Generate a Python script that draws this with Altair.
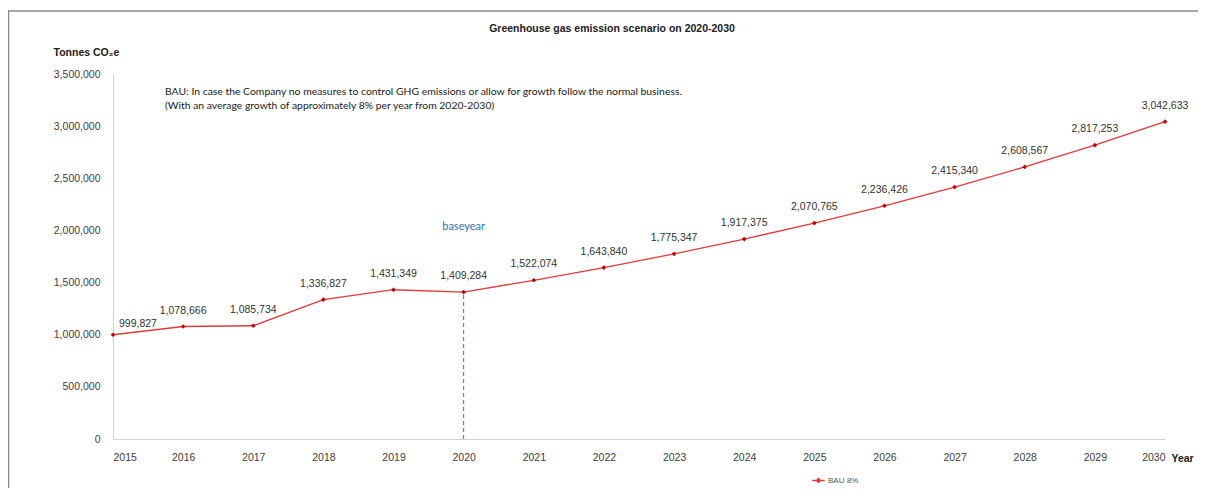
import altair as alt
import pandas as pd

years = list(range(2015, 2031))
emissions = [999827, 1078666, 1085734, 1336827, 1431349, 1409284, 1522074, 1643840,
             1775347, 1917375, 2070765, 2236426, 2415340, 2608567, 2817253, 3042633]
series_name = "BAU 8%"
base_year = 2020
chart_title = "Greenhouse gas emission scenario on 2020-2030"
note_lines = ["BAU: In case the Company no measures to control GHG emissions or allow for growth follow the normal business.",
              "(With an average growth of approximately 8% per year from 2020-2030)"]

df = pd.DataFrame({"year": years, "value": emissions, "series": series_name})
df["label"] = df["value"].map(lambda v: f"{v:,}")

W, H = 1052, 365
FONT = "Liberation Sans"

x = alt.X("year:Q", scale=alt.Scale(domain=[2015, 2030], nice=False, zero=False),
          axis=alt.Axis(values=years, format="d", ticks=False, grid=False, labelPadding=13,
                        labelFontSize=10.5, labelColor="#404040", labelFont=FONT,
                        domainColor="#d0d0d0", title="Year", titleAngle=0, titleX=1058, titleY=19,
                        titleAlign="left", titleBaseline="middle", titleFontSize=10.5,
                        titleFont=FONT, titleColor="#202020", titleFontWeight="bold"))
y = alt.Y("value:Q", scale=alt.Scale(domain=[0, 3500000], nice=False),
          axis=alt.Axis(values=list(range(0, 3500001, 500000)), format=",d", ticks=False, grid=False,
                        labelPadding=13, labelFontSize=10.5, labelColor="#404040", labelFont=FONT,
                        domainColor="#d0d0d0", title="Tonnes CO₂e", titleAngle=0, titleX=-60,
                        titleY=-22, titleAlign="left", titleBaseline="middle", titleFontSize=10.5,
                        titleFont=FONT, titleColor="#202020", titleFontWeight="bold"))

base = alt.Chart(df)

line = base.mark_line(color="#E0393E", strokeWidth=1.3).encode(x=x, y=y)
pts = base.mark_point(shape="diamond", filled=True, size=22, opacity=1).encode(
    x="year:Q", y="value:Q",
    color=alt.Color("series:N", scale=alt.Scale(range=["#C00000"]),
                    legend=alt.Legend(title=None, orient="none", legendX=700, legendY=401,
                                      symbolType="M-1.4,0H1.4M-0.45,0L0,-0.45L0.45,0L0,0.45Z",
                                      symbolStrokeWidth=1.3, symbolSize=80,
                                      symbolStrokeColor="#E0393E", symbolFillColor="#C00000",
                                      labelFontSize=8, labelColor="#555555", labelFont=FONT)))

labels_mid = base.transform_filter(alt.datum.year > 2015).mark_text(
    dy=-16, fontSize=10.5, font=FONT, color="#333333").encode(x="year:Q", y="value:Q", text="label:N")
labels_first = base.transform_filter(alt.datum.year == 2015).mark_text(
    dy=-11, dx=6, align="left", fontSize=10.5, font=FONT, color="#333333").encode(
    x="year:Q", y="value:Q", text="label:N")

base_df = df[df["year"] == base_year]
rule = alt.Chart(base_df).transform_calculate(zero="0").mark_rule(
    color="#2E75B6", strokeDash=[4, 3], strokeWidth=1).encode(
    x="year:Q", y="zero:Q", y2="value:Q")
base_text = alt.Chart(base_df).mark_text(text="baseyear", fontSize=11, font="Lato",
                                         color="#2E75B6").encode(x="year:Q", y=alt.value(153))

note_df = pd.DataFrame({"t": note_lines, "i": [0, 1]})
note1 = alt.Chart(note_df).transform_filter(alt.datum.i == 0).mark_text(
    align="left", baseline="middle", fontSize=10.4, font="Lato", color="#202020").encode(
    x=alt.value(52), y=alt.value(18), text="t:N")
note2 = alt.Chart(note_df).transform_filter(alt.datum.i == 1).mark_text(
    align="left", baseline="middle", fontSize=10.4, font="Lato", color="#202020").encode(
    x=alt.value(52), y=alt.value(32), text="t:N")

title_mark = alt.Chart(pd.DataFrame({"t": [chart_title]})).mark_text(
    align="center", baseline="middle", fontSize=10.5, font=FONT, fontWeight="bold",
    color="#202020").encode(x=alt.value(499), y=alt.value(-45), text="t:N")

frame = alt.Chart(pd.DataFrame({"a": [0]})).mark_rect(filled=False, stroke="#8a8a8a", strokeWidth=1.5).encode(
    x=alt.value(-104.5), x2=alt.value(1110), y=alt.value(-63), y2=alt.value(440))

chart = alt.layer(frame, rule, line, pts, labels_mid, labels_first, base_text, note1, note2,
                  title_mark).properties(
    width=W, height=H,
    autosize=alt.AutoSizeParams(type="none"),
    padding={"left": 105, "top": 66, "right": 33, "bottom": 49},
).configure(background="white").configure_view(stroke=None)

chart.save("out.html", embed_options={"renderer": "svg", "actions": False})
